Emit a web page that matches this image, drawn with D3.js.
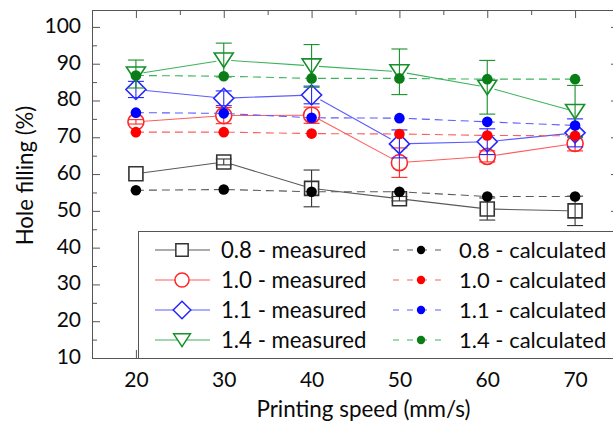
<!DOCTYPE html>
<html>
<head>
<meta charset="utf-8">
<script src="https://cdn.jsdelivr.net/npm/d3@7"></script>
<style>
  body { margin: 0; background: #fff; }
  text { font-family: "Lato", "Open Sans", sans-serif; fill: #0a0a0a; }
</style>
</head>
<body>
<svg id="chart" width="613" height="424"></svg>
<script>
// Printing speed (mm/s) on the x axis
const speeds = [20, 30, 40, 50, 60, 70];
const diameters = ["0.8", "1.0", "1.1", "1.4"];

// Measured hole filling (%) and its error (±) per hole diameter
const measured08 = [60.1, 63.3, 56.1, 53.3, 50.5, 50.0];
const error08    = [0.0, 0.8, 5.0, 0.6, 3.0, 4.0];
const measured10 = [74.2, 75.9, 76.0, 63.1, 64.8, 68.3];
const error10    = [0.6, 2.2, 2.2, 4.0, 1.5, 2.0];
const measured11 = [83.0, 80.6, 81.5, 68.2, 68.8, 71.2];
const error11    = [2.2, 2.0, 2.4, 3.8, 3.5, 3.8];
const measured14 = [87.2, 91.0, 89.4, 87.8, 83.6, 77.0];
const error14    = [3.8, 4.6, 5.8, 6.2, 7.3, 7.1];

// Calculated hole filling (%) per hole diameter
const calculated08 = [55.6, 55.8, 55.2, 55.2, 53.9, 53.9];
const calculated10 = [71.4, 71.4, 71.0, 70.9, 70.5, 70.4];
const calculated11 = [76.7, 76.5, 75.3, 75.2, 74.2, 73.2];
const calculated14 = [86.8, 86.6, 86.0, 86.0, 85.8, 85.8];

// Axis ticks and titles
const xTicks = [20, 30, 40, 50, 60, 70];
const xMinorTicks = [15, 25, 35, 45, 55, 65, 75];
const yTicks = [10, 20, 30, 40, 50, 60, 70, 80, 90, 100];
const yMinorTicks = [15, 25, 35, 45, 55, 65, 75, 85, 95];
const xTitle = "Printing speed (mm/s)";
const yTitle = "Hole filling (%)";

const measuredValues = [measured08, measured10, measured11, measured14];
const measuredErrors = [error08, error10, error11, error14];
const calculatedValues = [calculated08, calculated10, calculated11, calculated14];

// Per-series look
const shapes = ["square", "circle", "diamond", "triangleDown"];
const lineColors = ["#5a5a5a", "#ff5c5c", "#5c5cff", "#3cb35c"];
const markerColors = ["#333333", "#ff2626", "#2626ff", "#16902a"];
const dotColors = ["#000000", "#ff0000", "#0000ff", "#0a7d16"];
const markerGap = [7.5, 8.5, 10, 7.5];

const svg = d3.select("#chart");
const plotLeft = 92, plotRight = 619, plotTop = 10, plotBottom = 358;
const x = d3.scaleLinear().domain([15, 75]).range([plotLeft, plotRight]);
const y = d3.scaleLinear().domain([10, 104.6]).range([plotBottom, plotTop]);
const axisColor = "#555";

// Marker outlines centred on (0,0)
function shapePath(shape, s) {
  const p = d3.path();
  if (shape === "square") {
    const h = 7 * s;
    p.rect(-h, -h, 2 * h, 2 * h);
  } else if (shape === "circle") {
    p.arc(0, 0, 8 * s, 0, 2 * Math.PI);
  } else if (shape === "diamond") {
    const h = 10 * s;
    p.moveTo(0, -h); p.lineTo(h, 0); p.lineTo(0, h); p.lineTo(-h, 0); p.closePath();
  } else {
    const w = 9.5 * s, hTop = 7 * s, hBot = 7.5 * s;
    p.moveTo(-w, -hTop); p.lineTo(w, -hTop); p.lineTo(0, hBot); p.closePath();
  }
  return p.toString();
}

// ---- axes (ticks point into the plot) ----
function styleAxis(g) {
  g.select(".domain").remove();
  g.selectAll("line").attr("stroke", axisColor).attr("stroke-width", 1);
}
svg.append("g").attr("transform", `translate(${plotLeft},0)`)
  .call(d3.axisLeft(y).tickValues(yMinorTicks).tickSize(-5).tickFormat(""))
  .call(styleAxis);
const yAxis = svg.append("g").attr("transform", `translate(${plotLeft},0)`)
  .call(d3.axisLeft(y).tickValues(yTicks).tickSize(-8).tickPadding(11))
  .call(styleAxis);
yAxis.selectAll("text").attr("dy", null).attr("y", 5.5)
  .style("font-size", "21px").attr("fill", "#0a0a0a");

svg.append("g").attr("transform", `translate(${plotRight},0)`)
  .call(d3.axisRight(y).tickValues(yMinorTicks).tickSize(-5).tickFormat(""))
  .call(styleAxis);
svg.append("g").attr("transform", `translate(${plotRight},0)`)
  .call(d3.axisRight(y).tickValues(yTicks).tickSize(-8).tickFormat(""))
  .call(styleAxis);

svg.append("g").attr("transform", `translate(0,${plotTop})`)
  .call(d3.axisTop(x).tickValues(xMinorTicks).tickSize(-5).tickFormat(""))
  .call(styleAxis);
svg.append("g").attr("transform", `translate(0,${plotTop})`)
  .call(d3.axisTop(x).tickValues(xTicks).tickSize(-8).tickFormat(""))
  .call(styleAxis);

svg.append("g").attr("transform", `translate(0,${plotBottom})`)
  .call(d3.axisBottom(x).tickValues(xMinorTicks).tickSize(-5).tickFormat(""))
  .call(styleAxis);
const xAxis = svg.append("g").attr("transform", `translate(0,${plotBottom})`)
  .call(d3.axisBottom(x).tickValues(xTicks).tickSize(-8))
  .call(styleAxis);
xAxis.selectAll("text").attr("dy", null).attr("y", 29)
  .style("font-size", "21px").attr("fill", "#0a0a0a");

// plot frame
svg.append("rect")
  .attr("x", plotLeft + 0.5).attr("y", plotTop + 0.5)
  .attr("width", plotRight - plotLeft).attr("height", plotBottom - plotTop)
  .attr("fill", "none").attr("stroke", axisColor).attr("stroke-width", 1);

// axis titles
svg.append("text")
  .attr("x", 363.5).attr("y", 417)
  .attr("text-anchor", "middle")
  .style("font-size", "22.4px")
  .text(xTitle);
svg.append("text")
  .attr("transform", "translate(33,175.5) rotate(-90)")
  .attr("text-anchor", "middle")
  .style("font-size", "22.2px")
  .text(yTitle);

// ---- measured series: lines broken at each marker, hollow markers, error bars ----
const plot = svg.append("g");
measuredValues.forEach((vals, i) => {
  const pts = speeds.map((s, k) => [x(s), y(vals[k])]);
  const g = plot.append("g");
  const segs = d3.pairs(pts).map(([a, b]) => {
    const dx = b[0] - a[0], dy = b[1] - a[1];
    const len = Math.hypot(dx, dy), r = markerGap[i];
    return [[a[0] + dx * r / len, a[1] + dy * r / len], [b[0] - dx * r / len, b[1] - dy * r / len]];
  });
  g.selectAll("line.seg").data(segs).join("line")
    .attr("x1", d => d[0][0]).attr("y1", d => d[0][1])
    .attr("x2", d => d[1][0]).attr("y2", d => d[1][1])
    .attr("stroke", lineColors[i]).attr("stroke-width", 1.1);

  const errs = measuredErrors[i];
  const withError = speeds.map((s, k) => ({ s, v: vals[k], e: errs[k] })).filter(d => d.e > 0);
  const eb = g.selectAll("g.err").data(withError).join("g")
    .attr("stroke", markerColors[i]).attr("stroke-width", 1.1);
  eb.append("line")
    .attr("x1", d => x(d.s)).attr("x2", d => x(d.s))
    .attr("y1", d => y(d.v + d.e)).attr("y2", d => y(d.v - d.e));
  eb.append("line")
    .attr("x1", d => x(d.s) - 8).attr("x2", d => x(d.s) + 8)
    .attr("y1", d => y(d.v + d.e)).attr("y2", d => y(d.v + d.e));
  eb.append("line")
    .attr("x1", d => x(d.s) - 8).attr("x2", d => x(d.s) + 8)
    .attr("y1", d => y(d.v - d.e)).attr("y2", d => y(d.v - d.e));

  g.selectAll("path.marker").data(speeds).join("path")
    .attr("transform", (s, k) => `translate(${x(s)},${y(vals[k])})`)
    .attr("d", shapePath(shapes[i], 1))
    .attr("fill", "none").attr("stroke", markerColors[i]).attr("stroke-width", 1.6);
});

// ---- calculated series: dashed lines with filled dots ----
calculatedValues.forEach((vals, i) => {
  const g = plot.append("g");
  g.append("path")
    .datum(speeds.map((s, k) => [s, vals[k]]))
    .attr("d", d3.line().x(d => x(d[0])).y(d => y(d[1])))
    .attr("fill", "none").attr("stroke", lineColors[i]).attr("stroke-width", 1.1)
    .attr("stroke-dasharray", "8,5");
  g.selectAll("circle").data(speeds).join("circle")
    .attr("cx", s => x(s)).attr("cy", (s, k) => y(vals[k]))
    .attr("r", 5.3).attr("fill", dotColors[i]);
});

// ---- legend ----
const legend = svg.append("g");
legend.append("rect")
  .attr("x", 138.5).attr("y", 231.5).attr("width", 500).attr("height", plotBottom - 231)
  .attr("fill", "#fff").attr("stroke", axisColor).attr("stroke-width", 1);

diameters.forEach((d, i) => {
  const cy = 250 + i * 30;
  // measured entry
  legend.append("line").attr("x1", 155).attr("x2", 210).attr("y1", cy).attr("y2", cy)
    .attr("stroke", lineColors[i]).attr("stroke-width", 1.1);
  legend.append("path").attr("transform", `translate(182,${cy})`)
    .attr("d", shapePath(shapes[i], 0.88))
    .attr("fill", "#fff").attr("stroke", markerColors[i]).attr("stroke-width", 1.5);
  legend.append("text").attr("x", 221).attr("y", cy + 7.5)
    .style("font-size", "22.2px").text(`${d} - measured`);
  // calculated entry
  legend.append("line").attr("x1", 393).attr("x2", 448).attr("y1", cy).attr("y2", cy)
    .attr("stroke", lineColors[i]).attr("stroke-width", 1.1)
    .attr("stroke-dasharray", "6,8");
  legend.append("circle").attr("cx", 421).attr("cy", cy).attr("r", 4.2)
    .attr("fill", dotColors[i]);
  legend.append("text").attr("x", 459).attr("y", cy + 7.5)
    .style("font-size", "22px").text(`${d} - calculated`);
});
</script>
</body>
</html>
